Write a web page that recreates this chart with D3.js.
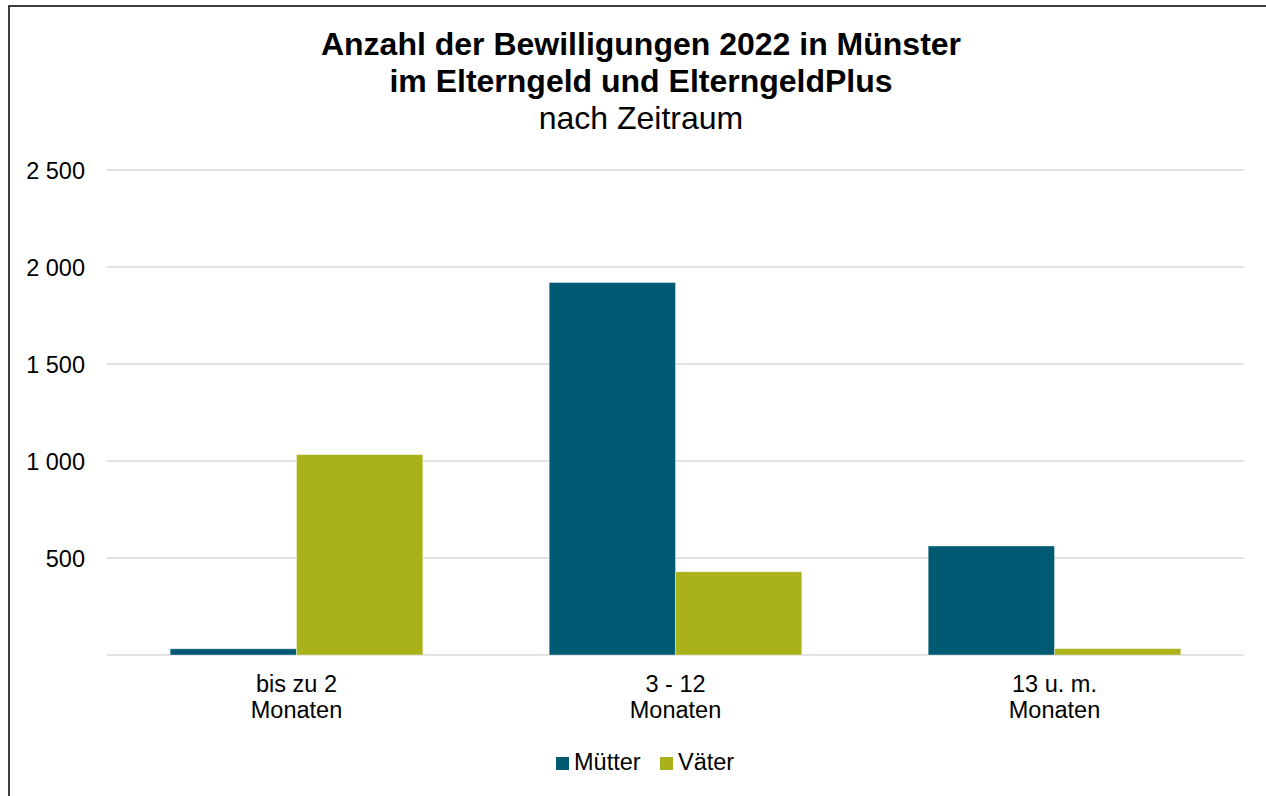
<!DOCTYPE html>
<html>
<head>
<meta charset="utf-8">
<script src="https://cdn.jsdelivr.net/npm/d3@7"></script>
<style>
  body { margin: 0; background: #fff; }
  text { font-family: "Liberation Sans", Arial, sans-serif; fill: #000; }
</style>
</head>
<body>
<div id="chart"></div>
<script>
// Chart data
const categories = [["bis zu 2", "Monaten"], ["3 - 12", "Monaten"], ["13 u. m.", "Monaten"]];
const seriesNames = ["Mütter", "Väter"];
const muetter = [32, 1920, 562];
const vaeter = [1033, 429, 33];
const yTicks = [500, 1000, 1500, 2000, 2500];
const colors = ["#005a74", "#a9b21a"];

const width = 1266, height = 796;
const marginLeft = 107, marginRight = 22, marginTop = 170, marginBottom = 141;
const labelSize = "23.5px";

const svg = d3.select("#chart").append("svg")
    .attr("width", width).attr("height", height);

// Outer frame (only left and top visible)
svg.append("rect")
    .attr("x", 9).attr("y", 6)
    .attr("width", 1300).attr("height", 900)
    .attr("fill", "none").attr("stroke", "#000").attr("stroke-width", 1.5);

// Title
const title = svg.append("text").attr("text-anchor", "middle");
title.append("tspan").attr("x", 641).attr("y", 55)
    .style("font-weight", "bold").style("font-size", "32px")
    .text("Anzahl der Bewilligungen 2022 in Münster");
title.append("tspan").attr("x", 641).attr("y", 92)
    .style("font-weight", "bold").style("font-size", "32px")
    .text("im Elterngeld und ElterngeldPlus");
title.append("tspan").attr("x", 641).attr("y", 129)
    .style("font-size", "32px")
    .text("nach Zeitraum");

// Scales
const x0 = d3.scaleBand()
    .domain(d3.range(categories.length))
    .range([marginLeft, width - marginRight])
    .paddingInner(1 / 3).paddingOuter(1 / 6);
const x1 = d3.scaleBand()
    .domain(seriesNames)
    .range([0, x0.bandwidth()]);
const y = d3.scaleLinear()
    .domain([0, 2500])
    .range([height - marginBottom, marginTop]);

// Grid lines
svg.append("g")
    .selectAll("line")
    .data([0].concat(yTicks))
    .enter()
    .append("line")
    .attr("x1", marginLeft).attr("x2", width - marginRight)
    .attr("y1", d => y(d)).attr("y2", d => y(d))
    .attr("stroke", "#d9d9d9").attr("stroke-width", 1.5);

// Y axis labels
const yAxis = d3.axisLeft(y)
    .tickValues(yTicks)
    .tickSize(0)
    .tickPadding(22)
    .tickFormat(d => d3.format(",")(d).replace(",", " "));
svg.append("g")
    .attr("transform", `translate(${marginLeft},0)`)
    .call(yAxis)
    .call(g => g.select(".domain").remove())
    .call(g => g.selectAll("text").style("font-size", labelSize).attr("font-family", null).attr("dy", "0.35em"));

// Bars
const rows = categories.map((c, i) => [
    { key: "Mütter", value: muetter[i] },
    { key: "Väter", value: vaeter[i] }
]);
svg.append("g")
    .selectAll("g")
    .data(rows)
    .enter()
    .append("g")
    .attr("transform", (d, i) => `translate(${x0(i)},0)`)
    .selectAll("rect")
    .data(d => d)
    .enter()
    .append("rect")
    .attr("x", d => x1(d.key))
    .attr("width", x1.bandwidth())
    .attr("y", d => y(d.value))
    .attr("height", d => y(0) - y(d.value))
    .attr("fill", (d, i) => colors[i])
    .attr("stroke", "#ffffff").attr("stroke-opacity", 0.5).attr("stroke-width", 0.75);

// X labels
const xl = svg.append("g")
    .selectAll("text")
    .data(categories)
    .enter()
    .append("text")
    .attr("text-anchor", "middle")
    .style("font-size", labelSize);
xl.append("tspan")
    .attr("x", (d, i) => x0(i) + x0.bandwidth() / 2)
    .attr("y", 692)
    .text(d => d[0]);
xl.append("tspan")
    .attr("x", (d, i) => x0(i) + x0.bandwidth() / 2)
    .attr("y", 718)
    .text(d => d[1]);

// Legend
const legendX = [556, 660];
const legend = svg.append("g")
    .selectAll("g")
    .data(seriesNames)
    .enter()
    .append("g")
    .attr("transform", (d, i) => `translate(${legendX[i]},757)`);
legend.append("rect")
    .attr("width", 13).attr("height", 13)
    .attr("fill", (d, i) => colors[i]);
legend.append("text")
    .attr("x", 18).attr("y", 12.5)
    .style("font-size", labelSize)
    .text(d => d);
</script>
</body>
</html>
